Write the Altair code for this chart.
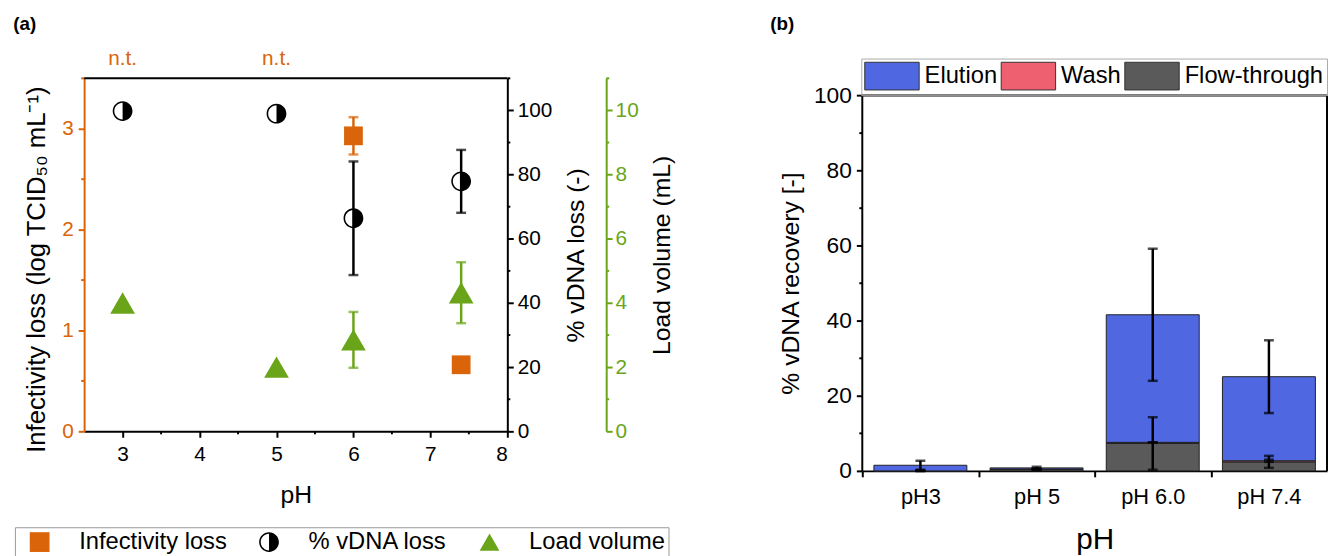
import altair as alt
import pandas as pd

FONT = "Liberation Sans"
ORANGE = "#DA6409"
GREEN = "#6AA519"
BLACK = "#000000"

# ---------------- panel (a) data ----------------
inf_ph = [6.0, 7.4]
inf_val = [2.93, 0.66]
inf_err = [0.185, 0.04]

dna_ph = [3.0, 5.0, 6.0, 7.4]
dna_val = [99.8, 99.0, 66.4, 77.9]
dna_err = [0.0, 0.0, 17.7, 9.8]

load_ph = [3.0, 5.0, 6.0, 7.4]
load_val = [4.0, 2.0, 2.85, 4.32]
load_err = [0.0, 0.0, 0.87, 0.95]

nt_ph = [3.0, 5.0]
nt_text = ["n.t.", "n.t."]

series_names = ["Infectivity loss", "% vDNA loss", "Load volume"]

x_major = [3, 4, 5, 6, 7, 8]
x_minor = [3.5, 4.5, 5.5, 6.5, 7.5]
inf_major = [0, 1, 2, 3]
inf_minor = [0.5, 1.5, 2.5, 3.5]
dna_major = [0, 20, 40, 60, 80, 100]
dna_minor = [10, 30, 50, 70, 90, 110]
load_major = [0, 2, 4, 6, 8, 10]
load_minor = [1, 3, 5, 7, 9, 11]

# ---------------- panel (b) data ----------------
categories = ["pH3", "pH 5", "pH 6.0", "pH 7.4"]
segments = ["Elution", "Wash", "Flow-through"]
seg_colors = ["#4F67E1", "#EE5F70", "#5A5A5A"]
flow = [0.0, 0.4, 7.3, 2.4]
wash = [0.0, 0.1, 0.3, 0.3]
elution = [1.5, 0.3, 34.0, 22.4]
flow_err = [0.0, 0.0, 7.0, 1.6]
wash_err = [0.0, 0.0, 0.0, 0.3]
elution_err = [1.2, 0.3, 17.6, 9.7]
rec_major = [0, 20, 40, 60, 80, 100]
rec_minor = [10, 30, 50, 70, 90]

HALF_PATH = ("M0,-1A1,1 0 0 1 0,1A1,1 0 0 1 0,-1Z"
             "M0,-0.84A0.84,0.84 0 0 0 -0.84,0A0.84,0.84 0 0 0 0,0.84Z")
SWATCH_PATH = "M-1,-1H2.93V1H-1Z"

EB_RULE = alt.MarkConfig(strokeWidth=2.5)
EB_TICK = alt.TickConfig(thickness=2.5)

# ================= panel (a) =================
W_A, H_A = 428, 357

xs = alt.Scale(domain=[2.5, 8], nice=False, zero=False)
xaxis = alt.Axis(values=x_major, title="pH", format="d", labelFontSize=21,
                 titleFontSize=25, tickSize=6, tickWidth=2, tickColor=BLACK,
                 domainColor=BLACK, domainWidth=2, labelColor=BLACK,
                 labelPadding=7, titlePadding=18, grid=False)
X = alt.X("ph:Q", scale=xs, axis=xaxis)

color_a = alt.Scale(domain=series_names, range=[ORANGE, BLACK, GREEN])
shape_a = alt.Scale(domain=series_names, range=["square", HALF_PATH, "triangle-up"])
legend_a = alt.Legend(orient="none", legendX=-70, legendY=454, direction="horizontal",
                      title=None, labelFontSize=24, symbolSize=400, labelOffset=28,
                      columnPadding=20, padding=3, symbolOffset=10, strokeColor="#999",
                      symbolStrokeWidth=0, labelColor=BLACK)

# orange
ys_inf = alt.Scale(domain=[0, 3.5], nice=False)
yax_inf = alt.Axis(orient="left", values=inf_major, title="Infectivity loss (log TCID₅₀ mL⁻¹)",
                   labelFontSize=21, titleFontSize=26, tickSize=6, tickWidth=2,
                   tickColor=ORANGE, domainColor=ORANGE, domainWidth=2, labelColor=ORANGE,
                   titleColor=BLACK, labelPadding=5, titlePadding=12, titleY=193, grid=False)
df_inf = pd.DataFrame({"ph": inf_ph, "v": inf_val,
                       "lo": [v - e for v, e in zip(inf_val, inf_err)],
                       "hi": [v + e for v, e in zip(inf_val, inf_err)],
                       "series": "Infectivity loss"})
inf_err_l = alt.Chart(df_inf).mark_errorbar(ticks=EB_TICK, rule=EB_RULE, thickness=2.5, size=10, color=ORANGE).encode(
    x=X, y=alt.Y("lo:Q", scale=ys_inf, axis=yax_inf), y2="hi:Q")
inf_pts = alt.Chart(df_inf).mark_point(filled=True, size=360, opacity=1, strokeWidth=0).encode(
    x=X, y=alt.Y("v:Q", scale=ys_inf, axis=yax_inf),
    color=alt.Color("series:N", scale=color_a, legend=legend_a),
    shape=alt.Shape("series:N", scale=shape_a, legend=legend_a))
inf_minor_l = alt.Chart(pd.DataFrame({"v": inf_minor})).mark_rule(color=ORANGE, strokeWidth=2).encode(
    y=alt.Y("v:Q", scale=ys_inf, axis=yax_inf), x=alt.value(-3), x2=alt.value(0))
x_minor_l = alt.Chart(pd.DataFrame({"ph": x_minor})).mark_rule(color=BLACK, strokeWidth=2).encode(
    x=X, y=alt.value(H_A), y2=alt.value(H_A + 3))
top_frame = alt.Chart(pd.DataFrame({"ph": [2.5]})).mark_rule(color=BLACK, strokeWidth=2).encode(
    x=alt.value(0), x2=alt.value(W_A), y=alt.value(0))
nt_l = alt.Chart(pd.DataFrame({"ph": nt_ph, "t": nt_text})).mark_text(
    color=ORANGE, fontSize=21, baseline="middle").encode(x=X, y=alt.value(-19), text="t:N")
lab_a = alt.Chart(pd.DataFrame({"t": ["(a)"]})).mark_text(
    fontSize=19, fontWeight="bold", baseline="middle", color=BLACK).encode(
    x=alt.value(-60), y=alt.value(-55), text="t:N")
orange_layer = alt.layer(inf_err_l, inf_pts, inf_minor_l, x_minor_l, top_frame, nt_l, lab_a)

# black
ys_dna = alt.Scale(domain=[0, 110], nice=False)
yax_dna = alt.Axis(orient="right", values=dna_major, title="% vDNA loss (-)",
                   labelFontSize=21, titleFontSize=25, tickSize=6, tickWidth=2,
                   tickColor=BLACK, domainColor=BLACK, domainWidth=2, labelColor=BLACK,
                   titleColor=BLACK, labelPadding=4, titlePadding=12, titleAngle=270,
                   titleBaseline="top", grid=False)
df_dna = pd.DataFrame({"ph": dna_ph, "v": dna_val,
                       "lo": [v - e for v, e in zip(dna_val, dna_err)],
                       "hi": [v + e for v, e in zip(dna_val, dna_err)],
                       "err": dna_err, "series": "% vDNA loss"})
dna_err_l = alt.Chart(df_dna[df_dna.err > 0]).mark_errorbar(ticks=EB_TICK, rule=EB_RULE, thickness=2.5, size=10, color=BLACK).encode(
    x=X, y=alt.Y("lo:Q", scale=ys_dna, axis=yax_dna), y2="hi:Q")
dna_pts = alt.Chart(df_dna).mark_point(filled=True, size=400, opacity=1, strokeWidth=0).encode(
    x=X, y=alt.Y("v:Q", scale=ys_dna, axis=yax_dna),
    color=alt.Color("series:N", scale=color_a, legend=legend_a),
    shape=alt.Shape("series:N", scale=shape_a, legend=legend_a))
dna_minor_l = alt.Chart(pd.DataFrame({"v": dna_minor})).mark_rule(color=BLACK, strokeWidth=2).encode(
    y=alt.Y("v:Q", scale=ys_dna, axis=yax_dna), x=alt.value(W_A), x2=alt.value(W_A + 3))
black_layer = alt.layer(dna_err_l, dna_pts, dna_minor_l)

# green
ys_load = alt.Scale(domain=[0, 11], nice=False)
yax_load = alt.Axis(orient="right", offset=100, values=load_major, title="Load volume (mL)",
                    labelFontSize=21, titleFontSize=25, tickSize=6, tickWidth=2,
                    tickColor=GREEN, domainColor=GREEN, domainWidth=2, labelColor=GREEN,
                    titleColor=BLACK, labelPadding=3, titlePadding=12, titleAngle=270,
                    titleBaseline="top", grid=False)
df_load = pd.DataFrame({"ph": load_ph, "v": load_val,
                        "lo": [v - e for v, e in zip(load_val, load_err)],
                        "hi": [v + e for v, e in zip(load_val, load_err)],
                        "err": load_err, "series": "Load volume"})
load_err_l = alt.Chart(df_load[df_load.err > 0]).mark_errorbar(ticks=EB_TICK, rule=EB_RULE, thickness=2.5, size=10, color=GREEN).encode(
    x=X, y=alt.Y("lo:Q", scale=ys_load, axis=yax_load), y2="hi:Q")
load_pts = alt.Chart(df_load).mark_point(filled=True, size=625, opacity=1, strokeWidth=0).encode(
    x=X, y=alt.Y("v:Q", scale=ys_load, axis=yax_load),
    color=alt.Color("series:N", scale=color_a, legend=legend_a),
    shape=alt.Shape("series:N", scale=shape_a, legend=legend_a))
load_minor_l = alt.Chart(pd.DataFrame({"v": load_minor})).mark_rule(color=GREEN, strokeWidth=2).encode(
    y=alt.Y("v:Q", scale=ys_load, axis=yax_load), x=alt.value(W_A + 100), x2=alt.value(W_A + 103))
green_layer = alt.layer(load_err_l, load_pts, load_minor_l)

panel_a = alt.layer(orange_layer, black_layer, green_layer).resolve_scale(
    y="independent").properties(width=W_A, height=H_A)

# ================= panel (b) =================
W_B, H_B = 470, 397
Y_TOP_B = 104.6
step_b = W_B / len(categories)

xs_b = alt.Scale(domain=categories, paddingInner=0.2, paddingOuter=0.1)
xax_b = alt.Axis(title="pH", titleFontSize=30, labelFontSize=22, labelAngle=0,
                 bandPosition=0.5, tickOffset=-step_b / 2, labelOffset=step_b / 2,
                 tickSize=6, tickWidth=2, tickColor=BLACK, domainColor=BLACK, domainWidth=2,
                 labelColor=BLACK, labelPadding=10, titlePadding=17, grid=False)
XB = alt.X("category:N", scale=xs_b, axis=xax_b, sort=categories)
ys_b = alt.Scale(domain=[0, Y_TOP_B], nice=False, zero=True)
yax_b = alt.Axis(values=rec_major, domain=False, tickSize=6, tickWidth=2, tickColor=BLACK,
                 labelFontSize=23, labelColor=BLACK, labelPadding=5,
                 title="% vDNA recovery [-]", titleFontSize=25, titleColor=BLACK,
                 titlePadding=10, titleY=207, grid=False)

rows = []
err_rows = []
for i, c in enumerate(categories):
    rows.append({"category": c, "segment": "Flow-through", "value": flow[i], "ord": 0})
    rows.append({"category": c, "segment": "Wash", "value": wash[i], "ord": 1})
    rows.append({"category": c, "segment": "Elution", "value": elution[i], "ord": 2})
    t1 = flow[i]
    t2 = flow[i] + wash[i]
    t3 = flow[i] + wash[i] + elution[i]
    for top, e in [(t1, flow_err[i]), (t2, wash_err[i]), (t3, elution_err[i])]:
        err_rows.append({"category": c, "lo": top - e, "hi": top + e})
df_b = pd.DataFrame(rows)
df_eb = pd.DataFrame(err_rows)

legend_b = alt.Legend(orient="none", legendX=-1, legendY=-20, direction="horizontal",
                      title=None, symbolType=SWATCH_PATH, symbolSize=784, labelFontSize=24,
                      labelOffset=32, columnPadding=1, padding=3, strokeColor="#aaa",
                      symbolStrokeColor="#333", symbolStrokeWidth=1, labelColor=BLACK,
                      labelLimit=0)

bars = alt.Chart(df_b).mark_bar(stroke="#222", strokeWidth=1).encode(
    x=XB, y=alt.Y("value:Q", stack="zero", scale=ys_b, axis=yax_b),
    color=alt.Color("segment:N", scale=alt.Scale(domain=segments, range=seg_colors), legend=legend_b),
    order=alt.Order("ord:Q"))
ebars = alt.Chart(df_eb).mark_errorbar(ticks=EB_TICK, rule=EB_RULE, thickness=2.5, size=10, color=BLACK).encode(
    x=XB, y=alt.Y("lo:Q", scale=ys_b, axis=yax_b), y2="hi:Q")
minor_b = alt.Chart(pd.DataFrame({"v": rec_minor})).mark_rule(color=BLACK, strokeWidth=2).encode(
    y=alt.Y("v:Q", scale=ys_b, axis=yax_b), x=alt.value(-3), x2=alt.value(0))
frame_df = pd.DataFrame({"lo": [0.0], "hi": [100.0]})
left_b = alt.Chart(frame_df).mark_rule(color=BLACK, strokeWidth=2).encode(
    x=alt.value(0), y=alt.Y("lo:Q", scale=ys_b, axis=yax_b), y2="hi:Q")
right_b = alt.Chart(frame_df).mark_rule(color=BLACK, strokeWidth=2).encode(
    x=alt.value(W_B), y=alt.Y("lo:Q", scale=ys_b, axis=yax_b), y2="hi:Q")
top_b = alt.Chart(frame_df).mark_rule(color=BLACK, strokeWidth=2).encode(
    x=alt.value(0), x2=alt.value(W_B), y=alt.Y("hi:Q", scale=ys_b, axis=yax_b))
lab_b = alt.Chart(pd.DataFrame({"t": ["(b)"]})).mark_text(
    fontSize=19, fontWeight="bold", baseline="middle", color=BLACK).encode(
    x=alt.value(-81), y=alt.value(-55), text="t:N")

panel_b = alt.layer(bars, ebars, minor_b, left_b, right_b, top_b, lab_b).properties(
    width=W_B, height=H_B)

chart = alt.hconcat(panel_a, panel_b, spacing=95).resolve_scale(
    color="independent", shape="independent"
).resolve_legend(
    color="independent", shape="independent"
).properties(
    padding={"left": 5, "top": 4, "right": 0, "bottom": 0}
).configure(font=FONT).configure_view(stroke=None).configure_axis(
    titleFontWeight="normal", labelFont=FONT, titleFont=FONT
).configure_legend(labelFont=FONT)

chart.save("out.html", embed_options={"renderer": "svg", "actions": False})
